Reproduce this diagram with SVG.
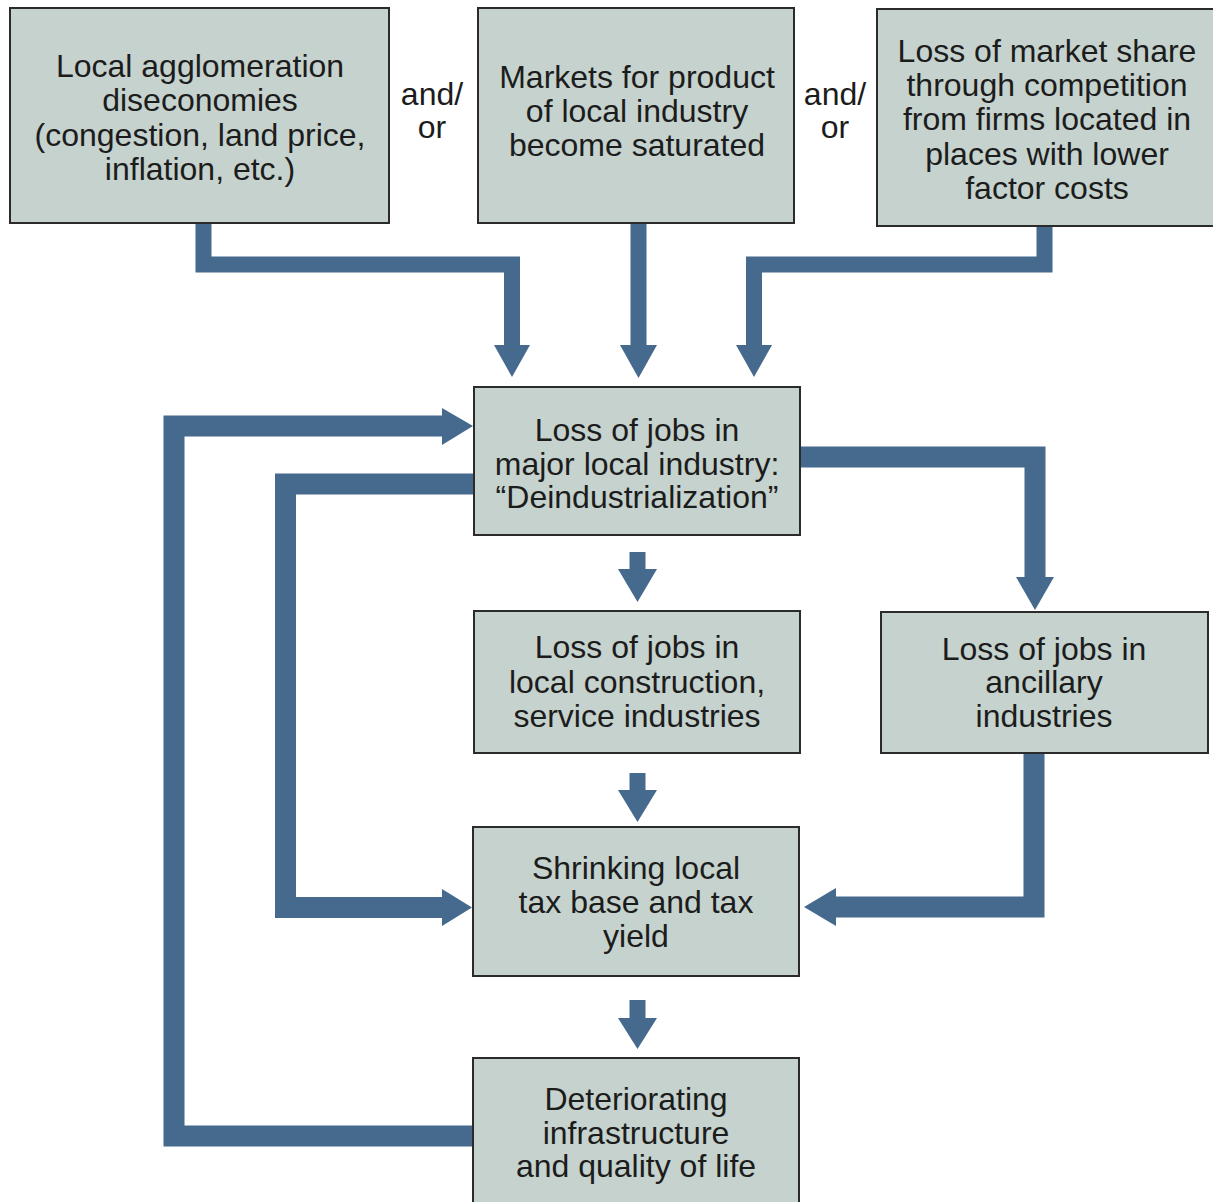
<svg xmlns="http://www.w3.org/2000/svg" width="1213" height="1202" viewBox="0 0 1213 1202">
<style>
.box{fill:#c5d2cd;stroke:#2b2b2b;stroke-width:2}
.t{font-family:"Liberation Sans",Arial,Helvetica,sans-serif;font-size:32px;fill:#1c1c1c;text-anchor:middle}
.c{fill:none;stroke:#46698e;stroke-linejoin:miter;stroke-linecap:butt}
.w1{stroke-width:16}
.w2{stroke-width:21}
.h{fill:#46698e}
</style>
<rect width="1213" height="1202" fill="#ffffff"/>
<g id="connectors">
<path class="c w1" d="M203.5 223 V264.5 H512 V346"/>
<polygon class="h" points="494,345 530,345 512,377"/>
<path class="c w1" d="M638.5 223 V346"/>
<polygon class="h" points="620,345 657,345 638.5,378"/>
<path class="c w1" d="M1044.5 226 V264.5 H754 V346"/>
<polygon class="h" points="736,345 772,345 754,377"/>
<path class="c w2" d="M800 457 H1035 V578"/>
<polygon class="h" points="1016,577 1054,577 1035,610"/>
<path class="c w1" d="M637.5 552 V570"/>
<polygon class="h" points="618,569 657,569 637.5,602"/>
<path class="c w1" d="M637.5 773 V791"/>
<polygon class="h" points="618,790 657,790 637.5,822"/>
<path class="c w1" d="M637.5 1000 V1019"/>
<polygon class="h" points="618,1018 657,1018 637.5,1049"/>
<path class="c w2" d="M1034 753 V907 H835"/>
<polygon class="h" points="836,888 836,926 804,907"/>
<path class="c w2" d="M474 484 H285.5 V907.5 H443"/>
<polygon class="h" points="442,889 442,926 472,907.5"/>
<path class="c w2" d="M474 1136 H174 V426 H443"/>
<polygon class="h" points="442,408 442,445 473,426"/>
</g>
<g id="n1">
<rect class="box" x="10" y="8" width="379" height="215"/>
<text class="t" x="200" y="77">Local agglomeration</text>
<text class="t" x="200" y="111">diseconomies</text>
<text class="t" x="200" y="146">(congestion, land price,</text>
<text class="t" x="200" y="180">inflation, etc.)</text>
</g>
<g id="andor1">
<text class="t" x="432" y="105">and/</text>
<text class="t" x="432" y="138">or</text>
</g>
<g id="n2">
<rect class="box" x="478" y="8" width="316" height="215"/>
<text class="t" x="637" y="88">Markets for product</text>
<text class="t" x="637" y="122">of local industry</text>
<text class="t" x="637" y="156">become saturated</text>
</g>
<g id="andor2">
<text class="t" x="835" y="105">and/</text>
<text class="t" x="835" y="138">or</text>
</g>
<g id="n3">
<rect class="box" x="877" y="9" width="340" height="217"/>
<text class="t" x="1047" y="62">Loss of market share</text>
<text class="t" x="1047" y="96">through competition</text>
<text class="t" x="1047" y="130">from firms located in</text>
<text class="t" x="1047" y="165">places with lower</text>
<text class="t" x="1047" y="199">factor costs</text>
</g>
<g id="n4">
<rect class="box" x="474" y="387" width="326" height="148"/>
<text class="t" x="637" y="441">Loss of jobs in</text>
<text class="t" x="637" y="475">major local industry:</text>
<text class="t" x="637" y="508">“Deindustrialization”</text>
</g>
<g id="n5">
<rect class="box" x="474" y="611" width="326" height="142"/>
<text class="t" x="637" y="658">Loss of jobs in</text>
<text class="t" x="637" y="693">local construction,</text>
<text class="t" x="637" y="727">service industries</text>
</g>
<g id="n6">
<rect class="box" x="881" y="612" width="327" height="141"/>
<text class="t" x="1044" y="660">Loss of jobs in</text>
<text class="t" x="1044" y="693">ancillary</text>
<text class="t" x="1044" y="727">industries</text>
</g>
<g id="n7">
<rect class="box" x="473" y="827" width="326" height="149"/>
<text class="t" x="636" y="879">Shrinking local</text>
<text class="t" x="636" y="913">tax base and tax</text>
<text class="t" x="636" y="947">yield</text>
</g>
<g id="n8">
<rect class="box" x="473" y="1058" width="326" height="150"/>
<text class="t" x="636" y="1110">Deteriorating</text>
<text class="t" x="636" y="1144">infrastructure</text>
<text class="t" x="636" y="1177">and quality of life</text>
</g>
</svg>
